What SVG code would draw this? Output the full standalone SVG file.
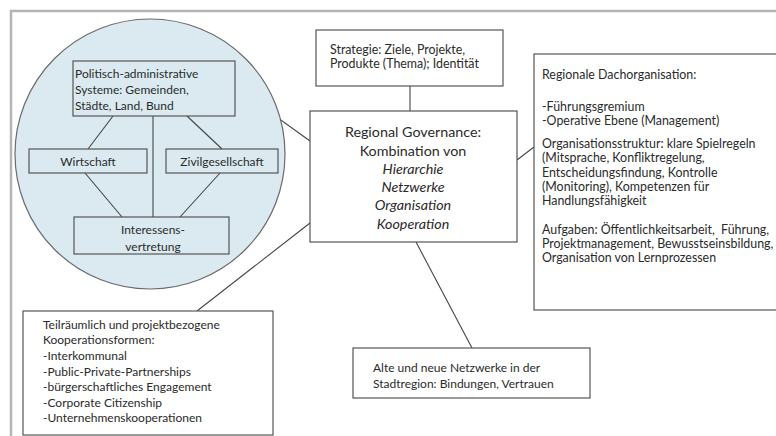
<svg xmlns="http://www.w3.org/2000/svg" width="776" height="436" viewBox="0 0 776 436">
  <style>
    .frame { fill: none; stroke: #b4b4b4; stroke-width: 2.5; }
    .box { fill: #ffffff; stroke: #555555; stroke-width: 1.2; }
    .ibox { fill: none; stroke: #555555; stroke-width: 1.2; }
    .edge { stroke: #444444; stroke-width: 1.1; fill: none; }
    text { font-family: "Lato", "Liberation Sans", sans-serif; fill: #2a2a2a; font-size: 12px; }
    .mid { text-anchor: middle; }
    .big { font-size: 14.3px; }
    .med { font-size: 12.4px; }
    .it { font-style: italic; }
  </style>
  <rect x="0" y="0" width="776" height="436" fill="#ffffff"/>
  <rect class="frame" x="11" y="11" width="790" height="450"/>

  <!-- connectors -->
  <g id="connectors">
    <line class="edge" x1="410" y1="86" x2="410" y2="111"/>
    <line class="edge" x1="235" y1="87" x2="310" y2="141"/>
    <line class="edge" x1="517" y1="160" x2="534" y2="147"/>
    <line class="edge" x1="310" y1="223" x2="197" y2="311"/>
    <line class="edge" x1="416" y1="242" x2="472" y2="348"/>
  </g>

  <!-- actor circle with its internal links -->
  <g id="actors">
    <circle cx="150" cy="154" r="135" fill="#dbeaf0" stroke="#6a6a6a" stroke-width="1.2"/>
    <g id="actor-links">
      <line class="edge" x1="113" y1="116" x2="88" y2="149"/>
      <line class="edge" x1="187" y1="116" x2="222" y2="149"/>
      <line class="edge" x1="153" y1="116" x2="153" y2="217"/>
      <line class="edge" x1="85" y1="173" x2="122" y2="217"/>
      <line class="edge" x1="220" y1="173" x2="180" y2="217"/>
    </g>
    <g id="politik">
      <rect class="ibox" x="73" y="61" width="162" height="55"/>
      <text x="75" y="78">Politisch-administrative</text>
      <text x="75" y="94">Systeme: Gemeinden,</text>
      <text x="75" y="110">Städte, Land, Bund</text>
    </g>
    <g id="wirtschaft">
      <rect class="ibox" x="29" y="149" width="118" height="24"/>
      <text class="mid" x="88" y="166">Wirtschaft</text>
    </g>
    <g id="zivil">
      <rect class="ibox" x="166" y="149" width="112" height="24"/>
      <text class="mid" x="222" y="166">Zivilgesellschaft</text>
    </g>
    <g id="interessen">
      <rect class="ibox" x="74" y="217" width="155" height="37"/>
      <text class="mid" x="153" y="234">Interessens-</text>
      <text class="mid" x="153" y="251">vertretung</text>
    </g>
  </g>

  <g id="strategie">
    <rect class="box" x="316" y="30" width="187" height="56"/>
    <text class="med" x="330" y="54">Strategie: Ziele, Projekte,</text>
    <text class="med" x="330" y="68">Produkte (Thema); Identität</text>
  </g>

  <g id="governance">
    <rect class="box" x="310" y="111" width="207" height="131"/>
    <text class="mid big" x="413" y="137">Regional Governance:</text>
    <text class="mid big" x="413" y="156">Kombination von</text>
    <text class="mid big it" x="413" y="174">Hierarchie</text>
    <text class="mid big it" x="413" y="192">Netzwerke</text>
    <text class="mid big it" x="413" y="210">Organisation</text>
    <text class="mid big it" x="413" y="229">Kooperation</text>
  </g>

  <g id="dachorganisation">
    <rect class="box" x="534" y="54" width="260" height="256"/>
    <text class="med" x="542" y="79">Regionale Dachorganisation:</text>
    <text class="med" x="542" y="111">-Führungsgremium</text>
    <text class="med" x="542" y="125">-Operative Ebene (Management)</text>
    <text class="med" x="542" y="148">Organisationsstruktur: klare Spielregeln</text>
    <text class="med" x="542" y="162">(Mitsprache, Konfliktregelung,</text>
    <text class="med" x="542" y="177">Entscheidungsfindung, Kontrolle</text>
    <text class="med" x="542" y="191">(Monitoring), Kompetenzen für</text>
    <text class="med" x="542" y="205">Handlungsfähigkeit</text>
    <text class="med" x="542" y="234" xml:space="preserve">Aufgaben: Öffentlichkeitsarbeit,  Führung,</text>
    <text class="med" x="542" y="248">Projektmanagement, Bewusstseinsbildung,</text>
    <text class="med" x="542" y="262">Organisation von Lernprozessen</text>
  </g>

  <g id="kooperation">
    <rect class="box" x="23" y="311" width="250" height="124"/>
    <text x="43" y="329">Teilräumlich und projektbezogene</text>
    <text x="43" y="344">Kooperationsformen:</text>
    <text x="43" y="360">-Interkommunal</text>
    <text x="43" y="376">-Public-Private-Partnerships</text>
    <text x="43" y="391">-bürgerschaftliches Engagement</text>
    <text x="43" y="407">-Corporate Citizenship</text>
    <text x="43" y="422">-Unternehmenskooperationen</text>
  </g>

  <g id="netzwerke">
    <rect class="box" x="353" y="348" width="237" height="50"/>
    <text x="373" y="372">Alte und neue Netzwerke in der</text>
    <text x="373" y="388">Stadtregion: Bindungen, Vertrauen</text>
  </g>
</svg>
